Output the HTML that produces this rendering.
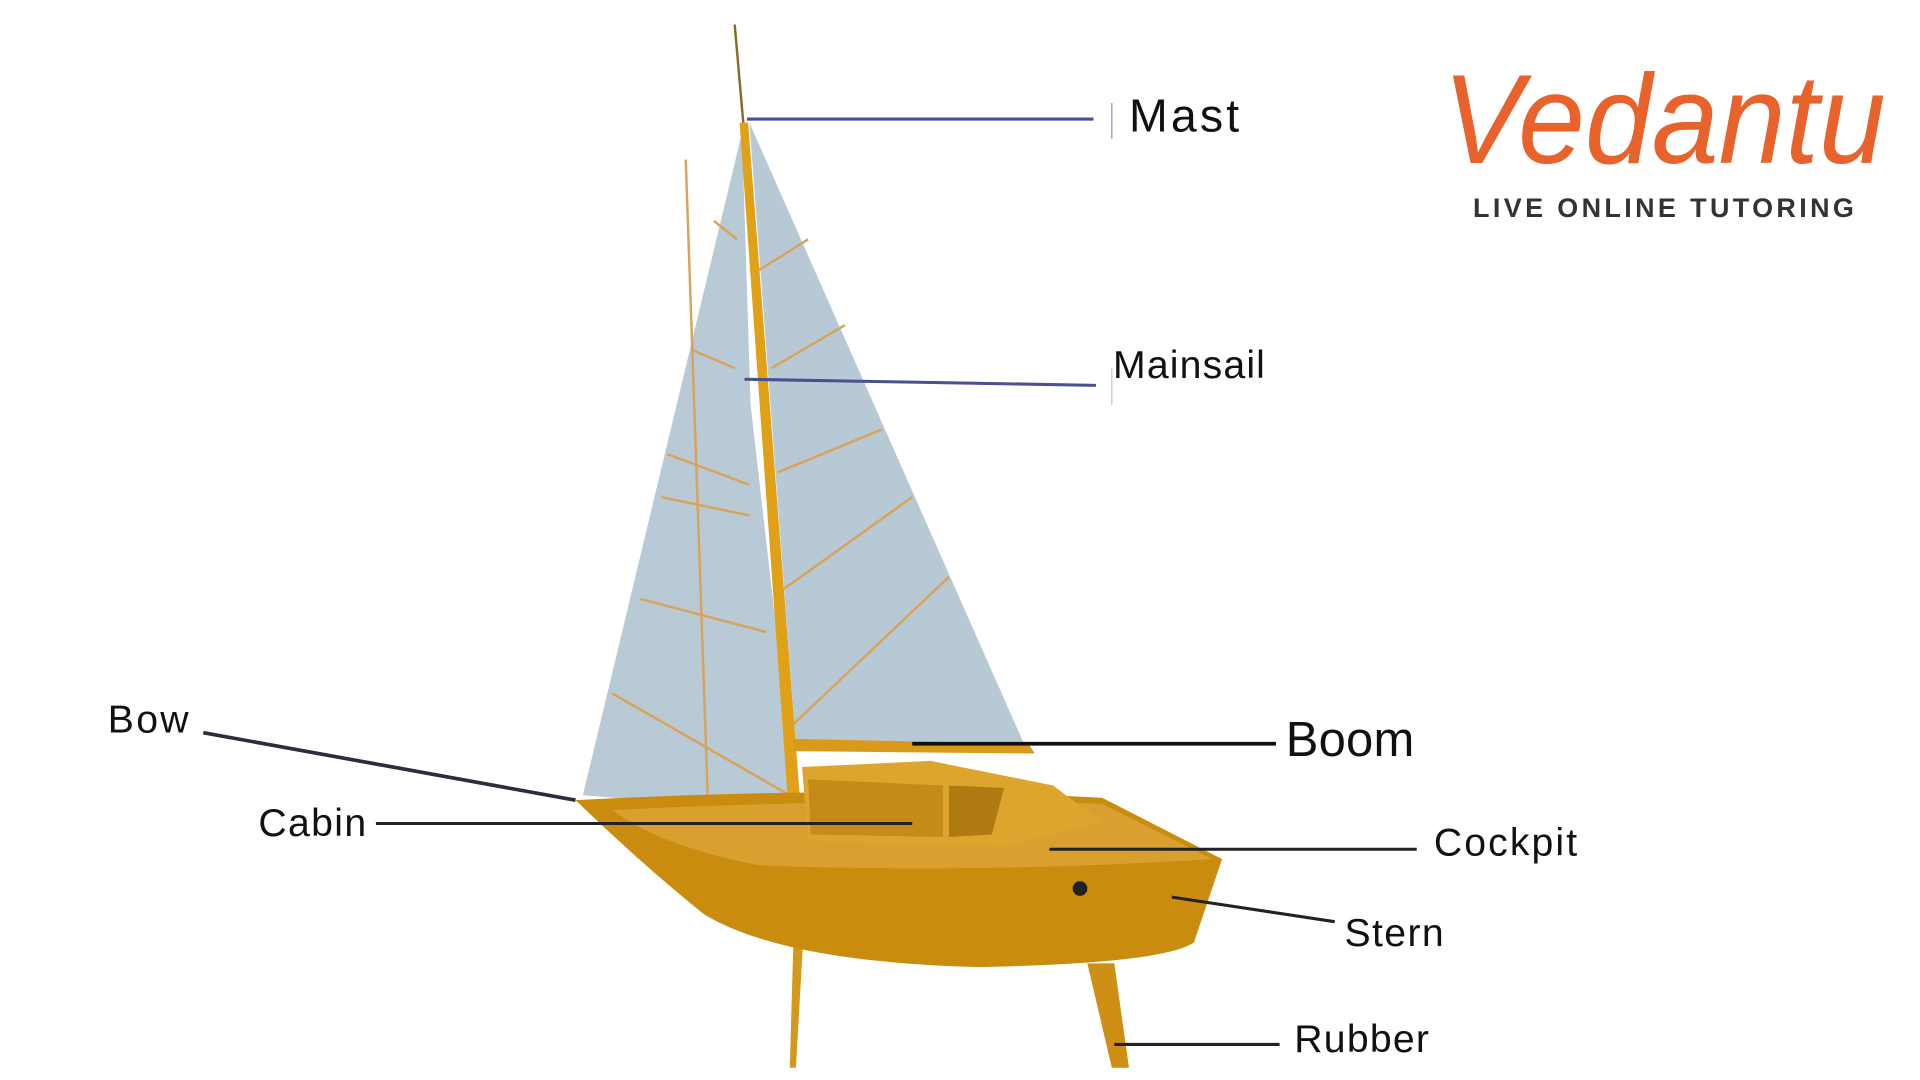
<!DOCTYPE html>
<html><head><meta charset="utf-8"><style>
html,body{margin:0;padding:0;background:#fff;}
svg{display:block;}
text{font-family:"Liberation Sans",sans-serif;}
</style></head><body>
<svg width="1920" height="1080" viewBox="0 0 1568 880" preserveAspectRatio="none" xmlns="http://www.w3.org/2000/svg">
<rect width="1568" height="880" fill="#fff"/>
<!-- mainsail -->
<polygon points="612,100 838,610 650,608" fill="#B7C9D4"/>
<!-- jib -->
<polygon points="606,108 476,648 652,662 644,600 613,330" fill="#B8CAD5"/>
<g stroke="#D9A35A" stroke-width="2" fill="none">
<line x1="583" y1="180" x2="602" y2="195"/><line x1="565" y1="285" x2="600" y2="300"/>
<line x1="545" y1="370" x2="612" y2="395"/>
<line x1="540" y1="405" x2="612" y2="420"/><line x1="523" y1="488" x2="626" y2="515"/>
<line x1="500" y1="565" x2="645" y2="648"/><line x1="560" y1="130" x2="578" y2="650"/>
<line x1="620" y1="220" x2="660" y2="195"/><line x1="630" y1="300" x2="690" y2="265"/>
<line x1="635" y1="385" x2="720" y2="350"/><line x1="640" y1="480" x2="745" y2="405"/>
<line x1="648" y1="590" x2="775" y2="470"/>
</g>
<!-- mast -->
<line x1="600" y1="20" x2="607" y2="100" stroke="#8a6a2a" stroke-width="2"/>
<polygon points="604,100 611,100 654,660 644,660" fill="#E0A018"/>
<!-- boom -->
<polygon points="648,602 840,606 845,614 648,612" fill="#D99A1C"/>
<!-- keels -->
<polygon points="648,765 656,765 650,870 645,870" fill="#D4981C"/>
<polygon points="888,785 910,785 922,870 908,870" fill="#CE8F14"/>
<!-- hull -->
<path d="M470,652 Q700,640 900,650 L998,700 L975,768 Q950,785 800,788 Q640,784 575,745 Q525,705 470,652 Z" fill="#C98C0E"/>
<path d="M500,660 Q700,650 900,655 L990,700 Q800,712 620,705 Q540,690 500,660 Z" fill="#D9A030"/>
<!-- cabin -->
<polygon points="655,625 760,620 860,640 900,670 820,690 660,685" fill="#DEA52E"/>
<polygon points="660,635 770,640 770,682 662,680" fill="#C48B16"/>
<polygon points="775,640 820,642 810,680 775,682" fill="#B07A12"/>
<circle cx="882" cy="724" r="6" fill="#222"/>
<!-- leader lines -->
<line x1="610" y1="97" x2="893" y2="97" stroke="#4a5090" stroke-width="2.5"/>
<line x1="908" y1="84" x2="908" y2="113" stroke="#8a8fc0" stroke-width="1"/>
<line x1="608" y1="309" x2="895" y2="314" stroke="#4a5090" stroke-width="2.5"/>
<line x1="908" y1="300" x2="908" y2="330" stroke="#c0c3e0" stroke-width="1"/>
<line x1="166" y1="597" x2="470" y2="652" stroke="#2a2d3a" stroke-width="3"/>
<line x1="307" y1="671" x2="745" y2="671" stroke="#222" stroke-width="2.5"/>
<line x1="745" y1="606" x2="1042" y2="606" stroke="#111" stroke-width="3"/>
<line x1="857" y1="692" x2="1157" y2="692" stroke="#222" stroke-width="2.5"/>
<line x1="957" y1="731" x2="1090" y2="751" stroke="#222" stroke-width="2.5"/>
<line x1="910" y1="851" x2="1045" y2="851" stroke="#222" stroke-width="2.5"/>
<!-- labels -->
<text x="922" y="107" font-size="38" fill="#111" textLength="90">Mast</text>
<text x="909" y="308" font-size="32" fill="#111" textLength="124">Mainsail</text>
<text x="88" y="597" font-size="32" fill="#111" textLength="66">Bow</text>
<text x="211" y="681" font-size="32" fill="#111" textLength="88">Cabin</text>
<text x="1050" y="616" font-size="40" fill="#111" textLength="105">Boom</text>
<text x="1171" y="697" font-size="32" fill="#111" textLength="117">Cockpit</text>
<text x="1098" y="771" font-size="32" fill="#111" textLength="81">Stern</text>
<text x="1057" y="857" font-size="32" fill="#111" textLength="110">Rubber</text>
<!-- logo -->
<text x="1178" y="133" font-size="104" font-style="italic" fill="#E8622C" textLength="362" lengthAdjust="spacingAndGlyphs">Vedantu</text>
<text x="1203" y="177" font-size="22" font-weight="bold" fill="#333" textLength="311" lengthAdjust="spacing">LIVE ONLINE TUTORING</text>
</svg>
</body></html>
